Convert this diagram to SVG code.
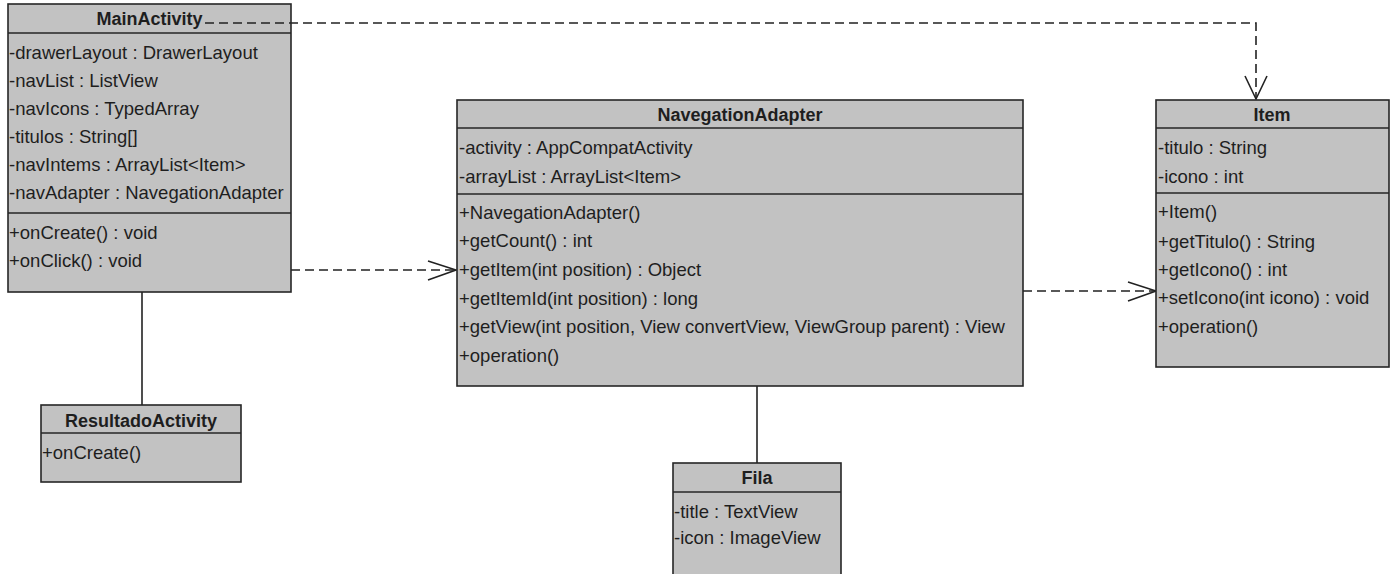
<svg xmlns="http://www.w3.org/2000/svg" width="1393" height="574" viewBox="0 0 1393 574">
<style>
.box{fill:#c2c2c2;stroke:#262626;stroke-width:1.6}
.sep{stroke:#262626;stroke-width:1.6;fill:none}
.t{font-family:"Liberation Sans",Arial,sans-serif;font-size:18.5px;fill:#1e1e1e}
.h{font-family:"Liberation Sans",Arial,sans-serif;font-size:18px;font-weight:bold;fill:#1e1e1e;text-anchor:middle}
.dash{stroke:#222;stroke-width:1.6;fill:none;stroke-dasharray:9 5}
.solid{stroke:#222;stroke-width:1.6;fill:none}
.head{stroke:#222;stroke-width:1.6;fill:none}
</style>
<rect width="1393" height="574" fill="#ffffff"/>
<g id="connectors">
<path class="dash" d="M205,23 H1256 V99"/>
<path class="head" d="M1245,76 L1256,99 L1267,76"/>
<path class="dash" d="M291,270 H455"/>
<path class="head" d="M428,261 L456,270 L428,280"/>
<path class="dash" d="M1023,291 H1155"/>
<path class="head" d="M1128,282 L1156,291 L1128,301"/>
<path class="solid" d="M142,292 V405"/>
<path class="solid" d="M757,386 V463"/>
</g>
<g id="MainActivity">
<rect class="box" x="8" y="4" width="283" height="288"/>
<path class="sep" d="M8,33 H291 M8,213 H291"/>
<text class="h" x="149.5" y="25">MainActivity</text>
<path class="dash" d="M205,23 H291"/>
<text class="t" x="9" y="59">-drawerLayout : DrawerLayout</text>
<text class="t" x="9" y="87">-navList : ListView</text>
<text class="t" x="9" y="115">-navIcons : TypedArray</text>
<text class="t" x="9" y="143">-titulos : String[]</text>
<text class="t" x="9" y="171">-navIntems : ArrayList&lt;Item&gt;</text>
<text class="t" x="9" y="199">-navAdapter : NavegationAdapter</text>
<text class="t" x="9" y="239">+onCreate() : void</text>
<text class="t" x="9" y="267">+onClick() : void</text>
</g>
<g id="NavegationAdapter">
<rect class="box" x="457" y="100" width="566" height="286"/>
<path class="sep" d="M457,128 H1023 M457,194 H1023"/>
<text class="h" x="740" y="121">NavegationAdapter</text>
<text class="t" x="459" y="154">-activity : AppCompatActivity</text>
<text class="t" x="459" y="183">-arrayList : ArrayList&lt;Item&gt;</text>
<text class="t" x="459" y="219">+NavegationAdapter()</text>
<text class="t" x="459" y="247">+getCount() : int</text>
<text class="t" x="459" y="276">+getItem(int position) : Object</text>
<text class="t" x="459" y="305">+getItemId(int position) : long</text>
<text class="t" x="459" y="333">+getView(int position, View convertView, ViewGroup parent) : View</text>
<text class="t" x="459" y="362">+operation()</text>
</g>
<g id="Item">
<rect class="box" x="1156" y="100" width="233" height="267"/>
<path class="sep" d="M1156,128 H1389 M1156,193 H1389"/>
<text class="h" x="1272" y="121">Item</text>
<text class="t" x="1158" y="154">-titulo : String</text>
<text class="t" x="1158" y="183">-icono : int</text>
<text class="t" x="1158" y="218">+Item()</text>
<text class="t" x="1158" y="248">+getTitulo() : String</text>
<text class="t" x="1158" y="276">+getIcono() : int</text>
<text class="t" x="1158" y="304">+setIcono(int icono) : void</text>
<text class="t" x="1158" y="333">+operation()</text>
</g>
<g id="ResultadoActivity">
<rect class="box" x="41" y="405" width="200" height="77"/>
<path class="sep" d="M41,433 H241"/>
<text class="h" x="141" y="427">ResultadoActivity</text>
<text class="t" x="42" y="459">+onCreate()</text>
</g>
<g id="Fila">
<rect class="box" x="673" y="463" width="168" height="130"/>
<path class="sep" d="M673,492 H841"/>
<text class="h" x="757" y="484">Fila</text>
<text class="t" x="674" y="518">-title : TextView</text>
<text class="t" x="674" y="544">-icon : ImageView</text>
</g>
</svg>
